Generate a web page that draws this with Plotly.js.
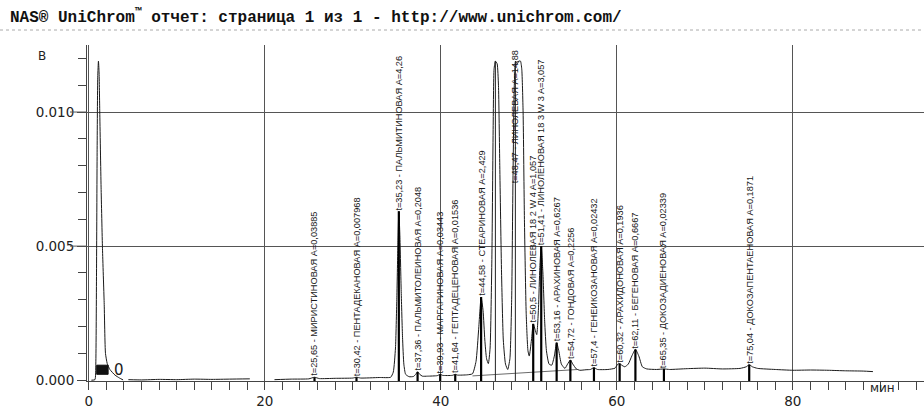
<!DOCTYPE html>
<html>
<head>
<meta charset="utf-8">
<script src="https://cdn.plot.ly/plotly-3.0.1.min.js"></script>
<style>html,body{margin:0;padding:0;background:#fff;}#chart{width:924px;height:408px;}</style>
</head>
<body>
<div id="chart"></div>
<script>
// Chromatogram signal (time, min / signal, V); null = break in the trace
const sigT = [0.3, 0.7, 0.8, 0.88, 0.95, 1.02, 1.1, 1.17, 1.25, 1.4, 1.56, 1.75, 1.9, 2.1, 2.4, 2.98, 3.5, 3.9,
  null,
  4.5, 6, 8, 10, 12, 14, 16, 18.3,
  null,
  21.1, 23, 25, 25.65, 26.2, 28, 30, 30.42, 30.9, 33, 34.3, 34.6, 34.85, 35.0, 35.12, 35.23, 35.35, 35.5, 35.65, 35.8, 36.0,
  36.4, 36.9, 37.15, 37.36, 37.6, 37.9, 38.5, 39.6, 39.93, 40.2, 41.3, 41.64, 41.9, 43.0, 43.6, 44.0, 44.3, 44.58, 44.8,
  45.0, 45.2, 45.4, 45.6, 45.8, 45.95, 46.05, 46.2, 46.4, 46.55, 46.7, 46.9, 47.1, 47.35, 47.6, 47.85, 48.05, 48.2, 48.35,
  48.5, 48.7, 48.85, 49.05, 49.2, 49.35, 49.5, 49.7, 49.9, 50.05, 50.3, 50.5, 50.7, 50.9, 51.1, 51.25, 51.41, 51.6, 51.8,
  52.0, 52.3, 52.6, 52.9, 53.16, 53.4, 53.7, 54.1, 54.4, 54.72, 55.0, 55.4, 55.8, 56.5, 57.0, 57.4, 57.8, 59.0, 59.8, 60.1,
  60.32, 60.6, 60.9, 61.3, 61.7, 62.11, 62.5, 62.9, 63.4, 64.5, 65.35, 66, 68, 70, 72, 74, 74.7, 75.04, 75.4, 76, 78, 80,
  82, 84, 86, 88, 89.1];
const sigV = [0.0, 0.00002, 0.0006, 0.004, 0.0085, 0.0113, 0.0119, 0.0115, 0.0100, 0.0072, 0.0049, 0.0029, 0.0010, 0.00062, 0.00040, 0.00019, 0.00008, 0.00001,
  null,
  0.00002, 0.00001, 0.00003, 0.00002, 0.00004, 0.00003, 0.00004, 0.00005,
  null,
  0.00002, 0.00004, 0.00005, 0.00011, 0.00006, 0.00007, 0.00008, 0.00011, 0.00008, 0.0001, 0.00011, 0.0003, 0.0012, 0.0030, 0.0050, 0.0063, 0.0054, 0.0033, 0.0016, 0.0006, 0.00022,
  0.00013, 0.00014, 0.00022, 0.00031, 0.00022, 0.00015, 0.00015, 0.00017, 0.00022, 0.00018, 0.00018, 0.00022, 0.00019, 0.0002, 0.00024, 0.0007, 0.0019, 0.0031, 0.0026,
  0.0015, 0.0008, 0.00062, 0.0012, 0.0045, 0.0095, 0.0116, 0.0119, 0.0118, 0.0110, 0.0080, 0.0040, 0.0015, 0.0006, 0.0004, 0.0008, 0.003, 0.0075, 0.0110,
  0.0119, 0.0118, 0.0119, 0.0119, 0.0116, 0.0100, 0.0060, 0.0025, 0.0011, 0.0009, 0.0015, 0.0021, 0.0019, 0.0017, 0.0027, 0.0042, 0.0050, 0.0040, 0.0022,
  0.0011, 0.0006, 0.00056, 0.0009, 0.0014, 0.0011, 0.0006, 0.00044, 0.0006, 0.00075, 0.0006, 0.00042, 0.00037, 0.00039, 0.0004, 0.00047, 0.0004, 0.0004, 0.00045, 0.0006,
  0.00062, 0.00055, 0.0005, 0.0006, 0.0009, 0.00115, 0.0009, 0.0005, 0.00042, 0.0004, 0.00042, 0.0004, 0.00043, 0.00045, 0.00042, 0.00044, 0.0005, 0.00058, 0.0005, 0.00044, 0.0004, 0.00037,
  0.00038, 0.00037, 0.00035, 0.00034, 0.00032];

// integration baseline under the main cluster
const baseT = [43.6, 55.6];
const baseV = [0.00016, 0.0004];

// identified peaks
const peakT = [25.65, 30.42, 35.23, 37.36, 39.93, 41.64, 44.58, 46.2, 48.47, 50.5, 51.41, 53.16, 54.72, 57.4, 60.32, 62.11, 65.35, 75.04];
const peakH = [0.00011, 0.00011, 0.0063, 0.00031, 0.00022, 0.00022, 0.0031, 0.0119, 0.0119, 0.0021, 0.0050, 0.0014, 0.00075, 0.00047, 0.00062, 0.00115, 0.00042, 0.00058];
const peakLabels = [
  "t=25,65 - МИРИСТИНОВАЯ A=0,03885",
  "t=30,42 - ПЕНТАДЕКАНОВАЯ A=0,007968",
  "t=35,23 - ПАЛЬМИТИНОВАЯ A=4,26",
  "t=37,36 - ПАЛЬМИТОЛЕИНОВАЯ A=0,2048",
  "t=39,93 - МАРГАРИНОВАЯ A=0,03443",
  "t=41,64 - ГЕПТАДЕЦЕНОВАЯ A=0,01536",
  "t=44,58 - СТЕАРИНОВАЯ A=2,429",
  "",
  "t=48,47 - ЛИНОЛЕВАЯ A=14,88",
  "t=50,5 - ЛИНОЛЕВАЯ 18 2 W 4 A=1,057",
  "t=51,41 - ЛИНОЛЕНОВАЯ 18 3 W 3 A=3,057",
  "t=53,16 - АРАХИНОВАЯ A=0,6267",
  "t=54,72 - ГОНДОВАЯ A=0,2256",
  "t=57,4 - ГЕНЕИКОЗАНОВАЯ A=0,02432",
  "t=60,32 - АРАХИДОНОВАЯ A=0,1936",
  "t=62,11 - БЕГЕНОВАЯ A=0,6667",
  "t=65,35 - ДОКОЗАДИЕНОВАЯ A=0,02339",
  "t=75,04 - ДОКОЗАПЕНТАЕНОВАЯ A=0,1871"
];

// solvent-peak marker block
const solventMarkT = [0.9, 2.2];
const solventMarkV = [0.00022, 0.00056];
const solventLabel = "0";

const xTickVals = [0, 20, 40, 60, 80];
const yTickVals = [0, 0.005, 0.010];
const yTickText = ["0.000", "0.005", "0.010"];

const headerText = "NAS® UniChrom<sup>™</sup> отчет: страница 1 из 1 - http://www.unichrom.com/";

// ---------- build ----------
const Y_MIN = -0.00003, Y_MAX = 0.0125;
const LABEL_CAP = 0.0073;

const mkX = [], mkY = [], mkBigX = [], mkBigY = [];
peakT.forEach((t, i) => {
  if (peakH[i] > LABEL_CAP) { mkBigX.push(t, t, null); mkBigY.push(peakH[i], Y_MIN - 0.001, null); }
  else { mkX.push(t, t, null); mkY.push(peakH[i], Y_MIN - 0.001, null); }
});

const traces = [
  { x: sigT, y: sigV, mode: 'lines', line: { color: '#1a1a1a', width: 1, shape: 'spline', smoothing: 0.5 }, connectgaps: false, hoverinfo: 'skip' },
  { x: baseT, y: baseV, mode: 'lines', line: { color: '#444', width: 0.8 }, hoverinfo: 'skip' },
  { x: mkX, y: mkY, mode: 'lines', line: { color: '#000', width: 2.2 }, hoverinfo: 'skip' },
  { x: mkBigX, y: mkBigY, mode: 'lines', line: { color: '#222', width: 1 }, hoverinfo: 'skip' },
  { x: [solventMarkT[0], solventMarkT[1], solventMarkT[1], solventMarkT[0], solventMarkT[0]],
    y: [solventMarkV[0], solventMarkV[0], solventMarkV[1], solventMarkV[1], solventMarkV[0]],
    mode: 'lines', fill: 'toself', fillcolor: '#111', line: { color: '#111', width: 1 }, hoverinfo: 'skip' }
];

const annotations = [];
peakT.forEach((t, i) => {
  if (!peakLabels[i]) return;
  annotations.push({
    x: t, y: Math.min(peakH[i], LABEL_CAP), xref: 'x', yref: 'y',
    text: peakLabels[i], textangle: -90, showarrow: false,
    xanchor: 'center', yanchor: 'bottom', borderpad: 0,
    font: { family: 'Liberation Sans, Arial, sans-serif', size: 9.2, color: '#1a1a1a' }
  });
});
annotations.push({
  x: solventMarkT[1] + 0.4, y: (solventMarkV[0] + solventMarkV[1]) / 2, xref: 'x', yref: 'y',
  text: solventLabel, showarrow: false, xanchor: 'left', yanchor: 'middle',
  font: { family: 'DejaVu Sans, sans-serif', size: 15, color: '#1a1a1a' }
});
annotations.push({
  x: -45 / 837, y: 1 - 11 / 336, xref: 'paper', yref: 'paper', text: 'В', showarrow: false,
  xanchor: 'center', yanchor: 'middle', font: { family: 'DejaVu Sans, sans-serif', size: 12, color: '#222' }
});
annotations.push({
  x: 0.951, y: -7 / 336, xref: 'paper', yref: 'paper', text: 'мин', showarrow: false,
  xanchor: 'center', yanchor: 'middle', font: { family: 'DejaVu Sans, sans-serif', size: 12, color: '#222' }
});
annotations.push({
  x: -79 / 837, y: 1 + 29 / 336, xref: 'paper', yref: 'paper', text: headerText, showarrow: false,
  xanchor: 'left', yanchor: 'middle', font: { family: 'Liberation Mono, DejaVu Sans Mono, monospace', size: 16, color: '#111', weight: 'bold' }
});

const shapes = [
  { type: 'line', xref: 'paper', yref: 'paper', x0: -87 / 837, x1: 1, y0: 1 + 15 / 336, y1: 1 + 15 / 336,
    line: { color: '#aaa', width: 1, dash: 'dot' } }
];
yTickVals.forEach(v => {
  if (v === 0) return;
  shapes.push({ type: 'line', xref: 'paper', yref: 'y', x0: -17 / 837, x1: 0, y0: v, y1: v, line: { color: '#555', width: 1 } });
});

const layout = {
  width: 924, height: 408,
  margin: { l: 87, r: 0, t: 45, b: 27 },
  paper_bgcolor: '#fff', plot_bgcolor: '#fff',
  showlegend: false,
  xaxis: {
    range: [-0.2, 94.9], tickvals: xTickVals, ticks: 'outside', ticklen: 8, tickcolor: '#444', tickwidth: 1,
    showgrid: true, gridcolor: '#555', gridwidth: 1, zeroline: false, showline: true, linecolor: '#444', linewidth: 1,
    minor: { dtick: 2, tick0: 0, ticks: 'outside', ticklen: 8, tickcolor: '#444', showgrid: false },
    tickfont: { family: 'DejaVu Sans, sans-serif', size: 13.5, color: '#222' }, fixedrange: true
  },
  yaxis: {
    range: [Y_MIN, Y_MAX], tickvals: yTickVals, ticktext: yTickText, ticks: 'outside', ticklen: 9, tickcolor: '#444',
    showgrid: true, gridcolor: '#555', gridwidth: 1, zeroline: false, showline: true, linecolor: '#444', linewidth: 1,
    minor: { dtick: 0.001, tick0: 0, ticks: 'outside', ticklen: 8, tickcolor: '#444', showgrid: false },
    tickfont: { family: 'DejaVu Sans, sans-serif', size: 13.5, color: '#222' }, fixedrange: true
  },
  annotations: annotations,
  shapes: shapes
};

Plotly.newPlot('chart', traces, layout, { staticPlot: true, displayModeBar: false });
</script>
</body>
</html>
